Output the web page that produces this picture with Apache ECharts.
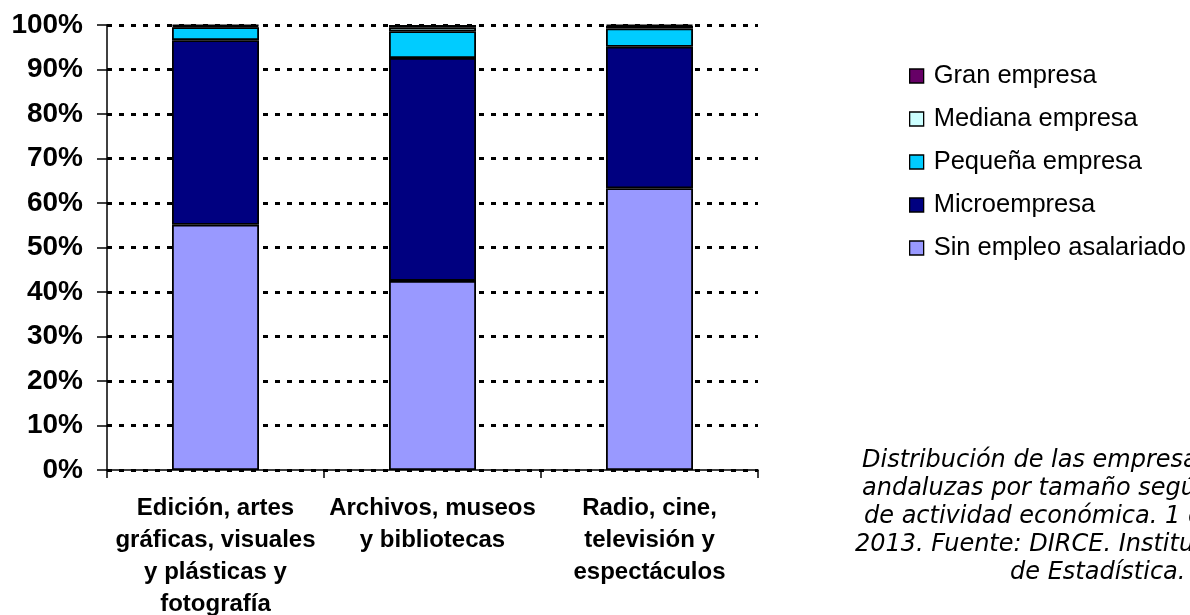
<!DOCTYPE html>
<html><head><meta charset="utf-8">
<script src="https://cdn.jsdelivr.net/npm/echarts@6/dist/echarts.min.js"></script>
<style>html,body{margin:0;padding:0;background:#fff}#c{width:1190px;height:615px}</style>
</head><body><div id="c"></div>
<script>
const categories = ['Edición, artes\ngráficas, visuales\ny plásticas y\nfotografía', 'Archivos, museos\ny bibliotecas', 'Radio, cine,\ntelevisión y\nespectáculos'];
const sinEmpleo = [55.1, 42.5, 63.3];
const micro = [41.5, 50.1, 31.8];
const pequena = [2.9, 6.0, 4.1];
const mediana = [0.3, 0.9, 0.6];
const gran = [0.2, 0.5, 0.2];
const yTicks = [0, 10, 20, 30, 40, 50, 60, 70, 80, 90, 100];
const captionLines = ['Distribución de las empresas culturales', 'andaluzas por tamaño según rama', 'de actividad económica. 1 de enero de', '2013. Fuente: DIRCE. Instituto Nacional', 'de Estadística.'];

const chart = echarts.init(document.getElementById('c'));
const mk = (name, data, color) => ({
  name, type: 'bar', stack: 'a', data, barWidth: 87,
  itemStyle: { color, borderColor: '#000', borderWidth: 1.8 }
});
const captionX = [862, 862, 864, 855, 1010];
chart.setOption({
  animation: false,
  grid: { left: 107, right: 432, top: 25, bottom: 145, containLabel: false, outerBoundsMode: 'none' },
  legend: {
    orient: 'vertical', left: 904, top: 58,
    itemWidth: 14, itemHeight: 14, itemGap: 17,
    icon: 'rect',
    data: ['Gran empresa', 'Mediana empresa', 'Pequeña empresa', 'Microempresa', 'Sin empleo asalariado'],
    itemStyle: { borderColor: '#000', borderWidth: 1.3 },
    textStyle: { fontFamily: 'Liberation Sans, Arial', fontSize: 25.5, color: '#000', padding: [0, 0, 0, 5] }
  },
  xAxis: {
    type: 'category', data: categories,
    axisLine: { lineStyle: { color: '#000', width: 1.5 } },
    axisTick: { show: true, length: 8, lineStyle: { color: '#000', width: 1.5 } },
    axisLabel: { fontFamily: 'Liberation Sans, Arial', fontWeight: 'bold', fontSize: 24, color: '#000', lineHeight: 32, margin: 22, interval: 0 }
  },
  yAxis: {
    type: 'value', min: yTicks[0], max: yTicks[yTicks.length - 1], interval: 10,
    axisLine: { show: true, lineStyle: { color: '#000', width: 1.5 } },
    axisTick: { show: true, length: 10, lineStyle: { color: '#000', width: 1.5 } },
    axisLabel: { formatter: '{value}%', fontFamily: 'Liberation Sans, Arial', fontWeight: 'bold', fontSize: 28, color: '#000', margin: 24 },
    splitLine: { show: true, lineStyle: { color: '#000', width: 3.2, type: [5, 7] } }
  },
  series: [
    mk('Sin empleo asalariado', sinEmpleo, '#9999FF'),
    mk('Microempresa', micro, '#000080'),
    mk('Pequeña empresa', pequena, '#00CCFF'),
    mk('Mediana empresa', mediana, '#CCFFFF'),
    mk('Gran empresa', gran, '#660066')
  ],
  graphic: captionLines.map((t, i) => ({
    type: 'text', left: captionX[i], top: 449 + i * 28,
    style: { text: t, font: 'italic 24px "DejaVu Sans", Verdana', fill: '#000' }
  }))
});
</script></body></html>
